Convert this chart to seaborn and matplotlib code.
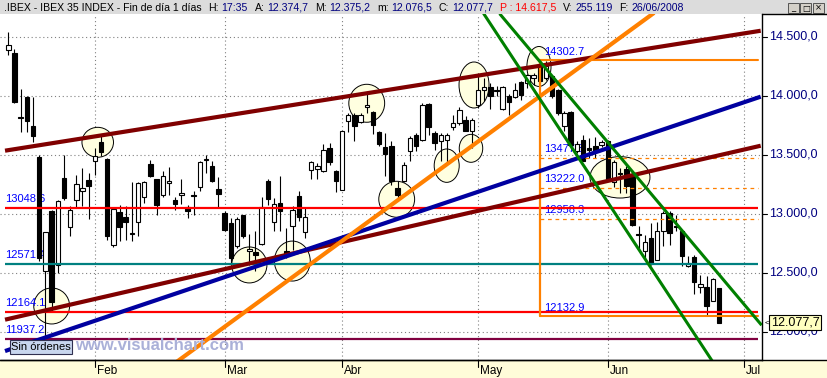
import numpy as np
import pandas as pd
import matplotlib
matplotlib.use("Agg")
import matplotlib.pyplot as plt
import seaborn as sns
from matplotlib.patches import Ellipse, Rectangle
from matplotlib.lines import Line2D

sns.set_theme(style="white")
plt.rcParams['font.family'] = ['Liberation Sans', 'DejaVu Sans']

# ---------------- data (daily OHLC, IBEX 35, 14-Jan-2008 .. 26-Jun-2008) -------------
opens = [14392, 14364, 13825, 13989, 13748, 13480, 12513, 13027, 12564, 13304,
         12886, 13120, 13191, 13285, 13446, 13607, 13465, 12739, 13016, 12974,
         12835, 12929, 13141, 13424, 13296, 13158, 13259, 13120, 13158, 13056,
         13160, 13225, 13455, 13404, 13211, 13008, 12923, 12730, 12988, 12683,
         12674, 12747, 13276, 12929, 13092, 12683, 12895, 13155, 12846, 13375,
         13381, 13361, 13559, 13366, 13205, 13785, 13841, 13776, 13904, 13862,
         13692, 13565, 13573, 13219, 13276, 13536, 13672, 13629, 13932, 13686,
         13621, 13629, 13734, 13771, 13799, 13700, 13921, 14048, 14073, 14042,
         13892, 13997, 13991, 14116, 14110, 14152, 14252, 14152, 14167, 14053,
         13743, 13862, 13531, 13624, 13560, 13578, 13582, 13616, 13270, 13345,
         13381, 13341, 12826, 12683, 12796, 12611, 12852, 13008, 12898, 12852,
         12555, 12632, 12377, 12377, 12264, 12374.7]
highs = [14542, 14398, 14059, 14002, 13991, 13502, 12850, 13035, 13115, 13502,
         13064, 13332, 13389, 13347, 13559, 13672, 13474, 13050, 13073, 13064,
         13268, 13270, 13280, 13460, 13300, 13361, 13398, 13143, 13296, 13078,
         13191, 13451, 13502, 13446, 13310, 13027, 12965, 12971, 12993, 12829,
         12852, 13143, 13296, 13135, 13319, 12880, 13064, 13196, 13056, 13451,
         13432, 13595, 13601, 13375, 13705, 13856, 13856, 13856, 14017, 13870,
         13700, 13686, 13616, 13276, 13440, 13658, 13686, 13940, 13940, 13700,
         13686, 13686, 13836, 13904, 13827, 13813, 14195, 14152, 14110, 14082,
         14082, 14017, 14110, 14124, 14186, 14195, 14302.7, 14294, 14180, 14062,
         13870, 13870, 13616, 13672, 13640, 13649, 13629, 13629, 13460, 13389,
         13404, 13375, 12895, 12823, 12923, 12931, 13022, 13022, 12993, 12857,
         12640, 12649, 12484, 12471, 12455, 12375.2]
lows = [14345, 13940, 13692, 13692, 13610, 12600, 11937.2, 12164.1, 12499, 13120,
        12810, 13050, 13064, 12959, 13327, 13488, 12781, 12717, 12773, 12781,
        12768, 12810, 13092, 13310, 12993, 13143, 13163, 13035, 13084, 12965,
        12993, 13191, 13347, 13270, 13056, 12852, 12584, 12711, 12796, 12569,
        12513, 12740, 13078, 12852, 12852, 12626, 12696, 12937, 12796, 13296,
        13296, 13355, 13417, 13185, 13200, 13692, 13621, 13770, 13856, 13677,
        13578, 13319, 13248, 13107, 13270, 13446, 13536, 13620, 13672, 13544,
        13446, 13432, 13714, 13751, 13700, 13559, 13898, 13955, 13892, 13997,
        13884, 13841, 13983, 13968, 14068, 14096, 14110, 14138, 13983, 13841,
        13700, 13560, 13516, 13446, 13470, 13474, 13565, 13276, 13225, 13177,
        13177, 12900, 12696, 12626, 12569, 12605, 12725, 12739, 12852, 12555,
        12550, 12321, 12329, 12137, 12260, 12076.5]
closes = [14435, 13946, 13815, 13785, 13658, 12626, 12844, 12253, 13107, 13135,
          13030, 13253, 13219, 13234, 13493, 13522, 12815, 13041, 12889, 12934,
          12830, 13262, 13270, 13319, 13078, 13319, 13281, 13084, 13177, 13022,
          13149, 13440, 13462, 13276, 13171, 12866, 12626, 12957, 12810, 12702,
          12654, 13056, 13126, 13084, 13022, 12649, 13030, 12971, 12971, 13437,
          13404, 13539, 13440, 13276, 13700, 13836, 13743, 13841, 13921, 13756,
          13595, 13508, 13276, 13163, 13412, 13644, 13573, 13926, 13734, 13601,
          13672, 13672, 13771, 13878, 13705, 13799, 14053, 14076, 14002, 14038,
          14073, 13946, 14053, 14011, 14180, 14180, 14124, 14252, 13997, 13856,
          13856, 13587, 13593, 13451, 13540, 13536, 13610, 13285, 13440, 13338,
          13239, 12908, 12820, 12762, 12584, 12857, 13008, 12838, 12892, 12640,
          12584, 12420, 12408, 12216, 12450, 12077.7]

month_labels = ["Feb", "Mar", "Abr", "May", "Jun", "Jul"]
month_pos = [14, 35, 54, 76, 97, 119]          # trading-day index of 1st session
price_ticks = [12000, 12500, 13000, 13500, 14000, 14500]

# horizontal support / resistance levels
level_values = [13048.6, 12571.4, 12164.1, 11937.2]
level_colors = ["#ff0000", "#008080", "#ff0000", "#800040"]

# Fibonacci retracement (high 14302.7 -> low 12132.9)
fib_high = 14302.7
fib_low = 12132.9
fib_levels = [13477.8, 13222.0, 12958.3]

# trend lines: (x0, y0, x1, y1) in (session index, price)
trend_lines = {
    "res_up":   (-0.53, 13536, 121.75, 14553),
    "sup_dn":   (-0.53, 12103, 121.75, 13578),
    "blue":     (-0.53, 11837, 121.75, 13994),
    "orange":   (27.0, 11736, 104.5, 14705),
    "green_lo": (76.9, 14700, 114.0, 11745),
    "green_hi": (79.5, 14698, 121.9, 12056),
}
trend_colors = {"res_up": "#800000", "sup_dn": "#800000", "blue": "#0000a0",
                "orange": "#ff8000", "green_lo": "#008000", "green_hi": "#008000"}

# highlighted zones (centre index, centre price, width in sessions, height in points)
zones = [(14.47, 13607, 5.1, 254), (7.02, 12219, 5.8, 305), (39.0, 12567, 5.7, 305),
         (45.96, 12600, 5.8, 339), (62.85, 13124, 5.8, 305), (58.0, 13938, 5.8, 322),
         (70.94, 13409, 4.05, 283), (74.87, 13556, 3.8, 237), (75.36, 14093, 4.85, 390),
         (85.87, 14250, 3.9, 339), (98.98, 13310, 9.7, 351)]

# header segments (text, colour); gap kind: 's' small after label, 'g' group gap
header = [(".IBEX - IBEX 35 INDEX - Fin de día 1 días", "black", "g"),
          ("H:", "black", "s"), ("17:35", "#000080", "g"),
          ("A:", "black", "s"), ("12.374,7", "#000080", "g"),
          ("M:", "black", "s"), ("12.375,2", "#000080", "g"),
          ("m:", "black", "s"), ("12.076,5", "#000080", "g"),
          ("C:", "black", "s"), ("12.077,7", "#000080", "g"),
          ("P : 14.617,5", "#ff0000", "g"),
          ("V:", "black", "s"), ("255.119", "#000080", "g"),
          ("F:", "black", "s"), ("26/06/2008", "#000080", "g")]

# ---------------- figure ---------------------------------------------------------
W, H = 828, 378
fig = plt.figure(figsize=(W / 100, H / 100), dpi=100)
fig.patch.set_facecolor("white")

top_px, bot_px, right_px = 14, 360, 762
ax = fig.add_axes([0, 1 - bot_px / H, right_px / W, (bot_px - top_px) / H])
ax.set_facecolor("white")
ax.set_xlim(-1.343, 121.96)
ax.set_ylim(11761, 14695)

ax.set_xticks(month_pos)
ax.set_yticks(price_ticks)
ax.tick_params(length=0, labelbottom=False, labelleft=False)
ax.grid(True, color="#808080", linestyle=(0, (1, 2.5)), linewidth=0.8)
ax.set_axisbelow(True)
for s in ["top", "left"]:
    ax.spines[s].set_visible(False)
for s in ["bottom", "right"]:
    ax.spines[s].set_color("black")
    ax.spines[s].set_linewidth(1.0)

df = pd.DataFrame({"o": opens, "h": highs, "l": lows, "c": closes})
df["x"] = np.arange(len(df))

# zones
for (cx, cy, w, h) in zones:
    ax.add_patch(Ellipse((cx, cy), w, h, facecolor="#ffffe0", edgecolor="black",
                         linewidth=0.7, zorder=1))

# level labels (under candles)
lab_kw = dict(color="#0000ff", fontsize=8, textcoords="offset pixels", va="center",
              ha="left", zorder=2)
for v in level_values:
    ax.annotate(f"{v:.1f}", (-0.53, v), xytext=(0, 9), **lab_kw)
for v in [fib_high] + fib_levels + [fib_low]:
    ax.annotate(f"{v:.1f}", (86, v), xytext=(4, 8.5), **lab_kw)

# candles
ax.vlines(df["x"], df["l"], df["h"], color="black", linewidth=0.8, zorder=3)
body_lo = df[["o", "c"]].min(axis=1)
body_h = (df["c"] - df["o"]).abs().clip(lower=9)
up = df["c"] >= df["o"]
ax.bar(df["x"][up], body_h[up], bottom=body_lo[up], width=0.72, color="white",
       edgecolor="black", linewidth=0.8, zorder=4)
ax.bar(df["x"][~up], body_h[~up], bottom=body_lo[~up], width=0.72, color="black",
       edgecolor="black", linewidth=0.8, zorder=4)

# horizontal levels
for v, col in zip(level_values, level_colors):
    ax.plot([-0.53, 121.3], [v, v], color=col, linewidth=1.6, zorder=5,
            solid_capstyle="butt")
ax.plot([86, 121.3], [fib_high, fib_high], color="#ff8000", linewidth=1.5, zorder=5)
ax.plot([86, 121.3], [fib_low, fib_low], color="#ff8000", linewidth=1.5, zorder=5)
ax.plot([86, 86], [fib_low, fib_high], color="#ff8000", linewidth=1.6, zorder=5)
for v in fib_levels:
    ax.plot([86, 121.3], [v, v], color="#ff8000", linewidth=0.9,
            linestyle=(0, (3, 3)), zorder=5)

# trend lines via seaborn
for name, (x0, y0, x1, y1) in trend_lines.items():
    lw = 2.2 if name.startswith("green") else 3.0
    sns.lineplot(x=[x0, x1], y=[y0, y1], color=trend_colors[name], linewidth=lw,
                 ax=ax, legend=False, sort=False, zorder=6,
                 solid_capstyle="butt")

ax.set_xlabel("")
ax.set_ylabel("")

# ---------------- chrome: title bar, bottom band, right axis ----------------------
def fx(px):
    return px / W


def fy(py):
    return 1 - py / H


fig.patches.append(Rectangle((0, fy(top_px)), 1, top_px / H, transform=fig.transFigure,
                             facecolor="#dcdcdc", edgecolor="none", zorder=-1))
fig.patches.append(Rectangle((0, 0), 1, (H - bot_px) / H, transform=fig.transFigure,
                             facecolor="#fffcd9", edgecolor="none", zorder=-1))
fig.lines.append(Line2D([0, 1], [fy(bot_px), fy(bot_px)], transform=fig.transFigure,
                        color="black", linewidth=1.0))
fig.lines.append(Line2D([fx(right_px), 1], [fy(top_px), fy(top_px)],
                        transform=fig.transFigure, color="black", linewidth=1.0))

# header laid out sequentially
renderer = fig.canvas.get_renderer()
xpos = 4.0
for txt, col, gap in header:
    t = fig.text(fx(xpos), fy(8), txt, color=col, fontsize=7.6, va="center", ha="left")
    wpx = t.get_window_extent(renderer=renderer).width
    xpos += wpx + (3.0 if gap == "s" else 6.5)

for i, sym in enumerate(["_", "□", "×"]):
    x0 = 788 + i * 12.5
    fig.patches.append(Rectangle((fx(x0), fy(13)), 11 / W, 10 / H, transform=fig.transFigure,
                                 facecolor="#d4d0c8", edgecolor="#404040", linewidth=0.6))
    fig.text(fx(x0 + 5.5), fy(8), sym, fontsize=6, ha="center", va="center",
             color="black", family=["DejaVu Sans"])

# right price scale
ytr = ax.get_yaxis_transform()
for v in price_ticks:
    lab = f"{v:,.1f}".replace(",", "X").replace(".", ",").replace("X", ".")
    ax.plot([1.0, 1.007], [v, v], transform=ytr, color="black", linewidth=0.8,
            clip_on=False)
    ax.text(1.009, v, lab, transform=ytr, color="#000080", fontsize=9,
            va="center", ha="left", clip_on=False)

last = closes[-1]
last_lab = f"{last:,.1f}".replace(",", "X").replace(".", ",").replace("X", ".")
ax.text(1.0115, last, last_lab, transform=ytr, color="black", fontsize=9,
        va="center", ha="left", clip_on=False, zorder=10,
        bbox=dict(boxstyle="square,pad=0.12", facecolor="#ffffc0", edgecolor="black",
                  linewidth=0.8))
ax.text(1.003, last, "<", transform=ytr, color="black", fontsize=6,
        va="center", ha="left", clip_on=False)

# month ticks
xtr = ax.get_xaxis_transform()
tick_len = 7 / (bot_px - top_px)
lab_y = -(371 - bot_px) / (bot_px - top_px)
for p, lab in zip(month_pos, month_labels):
    ax.plot([p, p], [0, -tick_len], transform=xtr, color="black", linewidth=0.8,
            clip_on=False)
    ax.annotate(lab, (p, lab_y), xycoords=xtr, xytext=(2, 0), textcoords="offset pixels",
                fontsize=8.5, color="black", va="center", ha="left", annotation_clip=False)

# watermark and order box
fig.text(fx(75), fy(345.5), "www.visualchart.com", fontsize=12, fontweight="bold",
         color="#aab0d8", va="center", ha="left", zorder=7)
fig.patches.append(Rectangle((fx(9.5), fy(353.5)), 62 / W, 13.5 / H,
                             transform=fig.transFigure, facecolor="#c8d6ee",
                             edgecolor="#303050", linewidth=0.8, zorder=8))
fig.text(fx(40.5), fy(346.8), "Sin órdenes", fontsize=8, color="black",
         va="center", ha="center", zorder=9)

fig.savefig("out.png", dpi=100)
